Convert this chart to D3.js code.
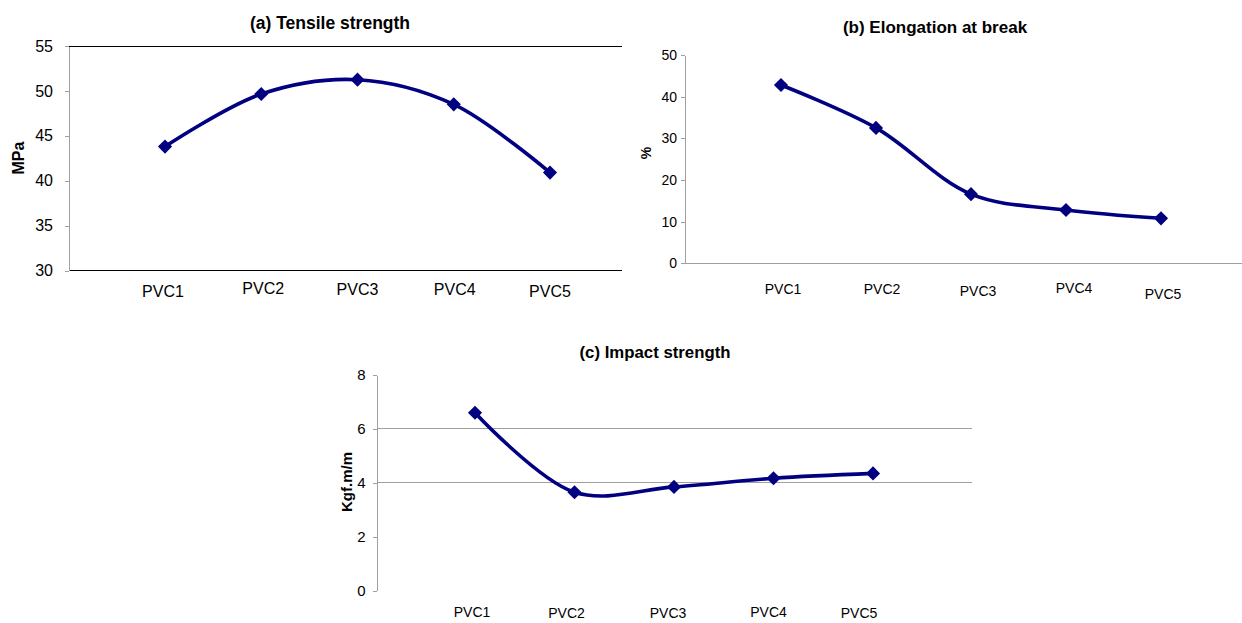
<!DOCTYPE html>
<html>
<head>
<meta charset="utf-8">
<script src="https://cdn.jsdelivr.net/npm/d3@7/dist/d3.min.js"></script>
<style>
  html, body { margin: 0; padding: 0; background: #fff; }
  svg { display: block; }
  text { font-family: "Liberation Sans", Arial, sans-serif; }
</style>
</head>
<body>
<svg id="chart" width="1242" height="623"></svg>
<script>
// ---- data ----
const categories = ["PVC1", "PVC2", "PVC3", "PVC4", "PVC5"];
const tensileStrength = [43.8, 49.65, 51.25, 48.5, 40.9];
const elongationAtBreak = [42.8, 32.5, 16.6, 12.8, 10.8];
const impactStrength = [6.6, 3.65, 3.85, 4.17, 4.35];
const tensileTicks = [30, 35, 40, 45, 50, 55];
const elongationTicks = [0, 10, 20, 30, 40, 50];
const impactTicks = [0, 2, 4, 6, 8];

const svg = d3.select("#chart");
const lineColor = "#000080";

function panel(cfg) {
  const g = svg.append("g");
  const x = d3.scalePoint().domain(categories).range(cfg.xRange);
  const y = d3.scaleLinear().domain(cfg.yDomain).range(cfg.yRange);

  // horizontal reference lines
  g.selectAll("line.h").data(cfg.hLines).join("line")
    .attr("x1", cfg.axisX).attr("x2", cfg.plotRight)
    .attr("y1", d => y(d.v)).attr("y2", d => y(d.v))
    .attr("stroke", d => d.c).attr("stroke-width", 1)
    .attr("shape-rendering", "crispEdges");

  // y axis
  const ax = g.append("g").attr("transform", `translate(${cfg.axisX},0)`)
    .call(d3.axisLeft(y).tickValues(cfg.ticks).tickSize(4).tickPadding(cfg.tickPad).tickSizeOuter(0));
  ax.select(".domain").attr("stroke", "#a0a0a0").attr("shape-rendering", "crispEdges");
  ax.selectAll(".tick line").attr("stroke", "#a0a0a0").attr("shape-rendering", "crispEdges");
  ax.selectAll(".tick text").attr("fill", "#000")
    .style("font-family", '"Liberation Sans", Arial, sans-serif')
    .style("font-size", cfg.tickFont + "px");

  // category labels
  g.selectAll("text.cat").data(categories).join("text")
    .attr("x", (d, i) => x(d) + cfg.labelDx[i])
    .attr("y", (d, i) => cfg.labelY + cfg.labelDy[i])
    .attr("text-anchor", "middle")
    .style("font-size", cfg.catFont + "px")
    .text(d => d);

  // line
  const line = d3.line()
    .x((d, i) => x(categories[i]))
    .y(d => y(d))
    .curve(d3.curveCatmullRom.alpha(0.5));
  g.append("path").datum(cfg.values)
    .attr("d", line).attr("fill", "none")
    .attr("stroke", lineColor).attr("stroke-width", 3.6)
    .attr("stroke-linejoin", "round");

  // diamonds
  const sym = d3.symbol().type(d3.symbolSquare).size(100);
  g.selectAll("path.mk").data(cfg.values).join("path")
    .attr("d", sym)
    .attr("transform", (d, i) => `translate(${x(categories[i])},${y(d)}) rotate(45)`)
    .attr("fill", lineColor);

  // title
  g.append("text").attr("x", cfg.titleX).attr("y", cfg.titleY)
    .attr("text-anchor", "middle")
    .style("font-weight", "bold").style("font-size", cfg.titleFont + "px")
    .text(cfg.title);

  // y label
  g.append("text")
    .attr("transform", `translate(${cfg.yLabelX},${cfg.yLabelY}) rotate(-90)`)
    .attr("text-anchor", "middle")
    .style("font-weight", "bold").style("font-size", cfg.yLabelFont + "px")
    .text(cfg.yLabel);
}

panel({
  xRange: [165, 550], yDomain: [30, 55], yRange: [270.5, 46],
  axisX: 69, plotRight: 622, ticks: tensileTicks, tickPad: 12, tickFont: 16,
  hLines: [{v: 55, c: "#000"}, {v: 30, c: "#000"}],
  values: tensileStrength,
  labelY: 296, labelDx: [-2, 2, 0, 1, 0], labelDy: [1, -2, -1, -1, 1], catFont: 16,
  title: "(a) Tensile strength", titleX: 330, titleY: 29, titleFont: 17.5,
  yLabel: "MPa", yLabelX: 24, yLabelY: 158, yLabelFont: 16
});

panel({
  xRange: [781, 1161], yDomain: [0, 50], yRange: [263.3, 55],
  axisX: 685, plotRight: 1242, ticks: elongationTicks, tickPad: 4, tickFont: 14,
  hLines: [{v: 0, c: "#a0a0a0"}],
  values: elongationAtBreak,
  labelY: 294, labelDx: [2, 6, 7, 8, 2], labelDy: [0, 0, 2, -1, 5], catFont: 14,
  title: "(b) Elongation at break", titleX: 935, titleY: 33, titleFont: 17,
  yLabel: "%", yLabelX: 651, yLabelY: 153, yLabelFont: 14
});

panel({
  xRange: [475, 873], yDomain: [0, 8], yRange: [590.7, 375],
  axisX: 376.5, plotRight: 972, ticks: impactTicks, tickPad: 7, tickFont: 15,
  hLines: [{v: 4, c: "#a0a0a0"}, {v: 6, c: "#a0a0a0"}],
  values: impactStrength,
  labelY: 617, labelDx: [-3, -8, -6, -5, -14], labelDy: [0, 1, 1, 0, 1], catFont: 14,
  title: "(c) Impact strength", titleX: 655, titleY: 358, titleFont: 16.8,
  yLabel: "Kgf.m/m", yLabelX: 352, yLabelY: 482, yLabelFont: 15
});
</script>
</body>
</html>
